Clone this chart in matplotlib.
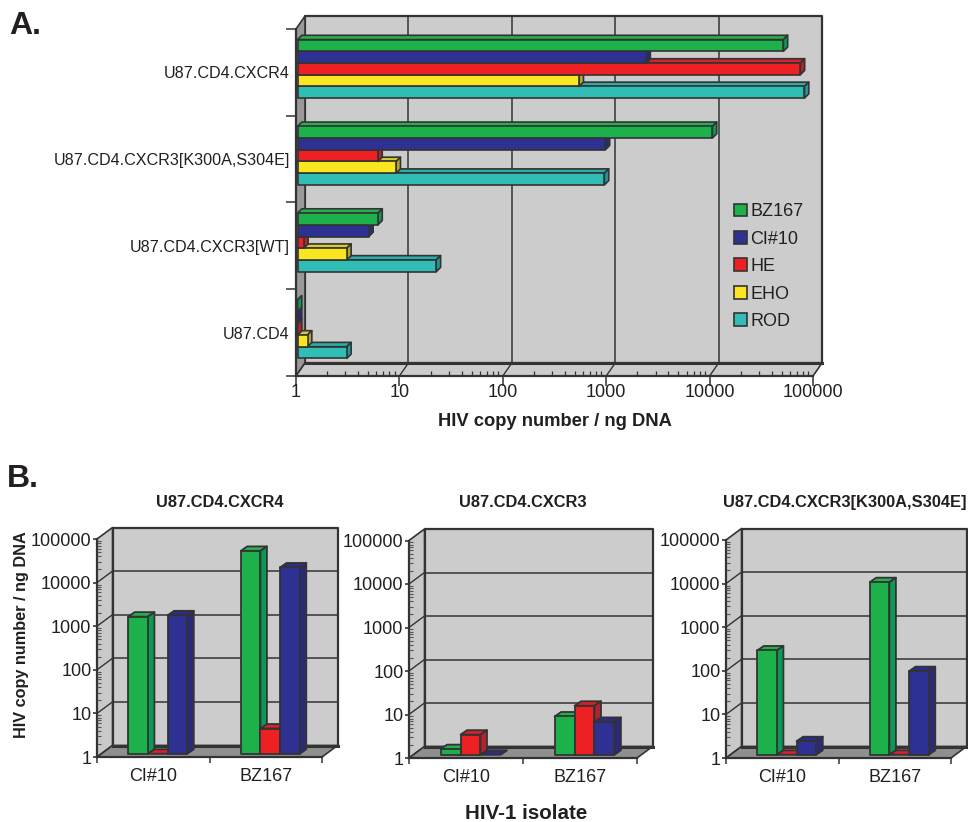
import matplotlib
matplotlib.use('Agg')
import matplotlib.pyplot as plt
import numpy as np
from matplotlib.patches import Polygon, Patch
from matplotlib.lines import Line2D
from matplotlib.ticker import LogLocator, NullFormatter
from matplotlib.transforms import IdentityTransform

plt.rcParams['font.family'] = ['Liberation Sans', 'DejaVu Sans']

W, H = 968, 822
INK = '#231f20'
LINE = '#333333'

# panel A
cells = ['U87.CD4.CXCR4', 'U87.CD4.CXCR3[K300A,S304E]', 'U87.CD4.CXCR3[WT]', 'U87.CD4']
isolates = ['BZ167', 'CI#10', 'HE', 'EHO', 'ROD']
bz167 = [50000, 10300, 6.0, 1.0]
ci10 = [2350, 950, 4.9, 1.0]
he = [73000, 6.0, 1.15, 1.0]
eho = [530, 9.0, 3.0, 1.25]
rod = [80000, 930, 22, 3.0]
decades = [1, 10, 100, 1000, 10000, 100000]
decade_labels = ['1', '10', '100', '1000', '10000', '100000']

# panel B
b_groups = ['CI#10', 'BZ167']
b_titles = ['U87.CD4.CXCR4', 'U87.CD4.CXCR3', 'U87.CD4.CXCR3[K300A,S304E]']
b_green = [[1400, 45000], [1.35, 7.6], [247, 9100]]
b_red = [[1.0, 3.8], [2.9, 13.4], [1.0, 1.0]]
b_navy = [[1500, 18800], [1.0, 5.7], [2.05, 83]]

front = {'BZ167': '#1db14b', 'CI#10': '#2e3192', 'HE': '#ed2024', 'EHO': '#f9e621', 'ROD': '#2fbdb5'}
side = {'BZ167': '#0b9a55', 'CI#10': '#2a2a7c', 'HE': '#b3242e', 'EHO': '#b3a73a', 'ROD': '#1f9c9c'}
top = {'BZ167': '#22b14c', 'CI#10': '#2b2d86', 'HE': '#d6202a', 'EHO': '#d8c92c', 'ROD': '#2aaeaa'}


def make_axes(fig, left, right, ytop, ybottom):
    return fig.add_axes([left / W, 1 - ybottom / H, (right - left) / W, (ybottom - ytop) / H])


def poly(ax, pts, color, edge=LINE, lw=1.0, z=3):
    ax.add_patch(Polygon(pts, closed=True, facecolor=color, edgecolor=edge, linewidth=lw,
                         transform=IdentityTransform(), clip_on=False, zorder=z, joinstyle='round'))


def seg(ax, a, b, lw=1.0, z=2, color=LINE):
    ax.add_line(Line2D([a[0], b[0]], [a[1], b[1]], color=color, linewidth=lw,
                       transform=IdentityTransform(), clip_on=False, zorder=z))


def box(ax, x0, x1, y0, y1, name, shift, depth, lw=1.0):
    # one 3D bar, corners come from the data through the axes scales
    a = ax.transData.transform((x0, y0)) + shift
    b = ax.transData.transform((x1, y1)) + shift
    l, r = min(a[0], b[0]), max(a[0], b[0])
    lo, hi = min(a[1], b[1]), max(a[1], b[1])
    dx, dy = depth
    poly(ax, [(l, hi), (r, hi), (r + dx, hi + dy), (l + dx, hi + dy)], top[name], lw=lw)
    poly(ax, [(r, lo), (r + dx, lo + dy), (r + dx, hi + dy), (r, hi)], side[name], lw=lw)
    if r - l > 0.5 and hi - lo > 0.5:
        poly(ax, [(l, lo), (r, lo), (r, hi), (l, hi)], front[name], lw=lw)


def room(ax, depth, wall_side, wall_floor, grid_x):
    # back wall, side wall and floor of the fake 3D box
    bl = ax.transAxes.transform((0, 0))
    br = ax.transAxes.transform((1, 0))
    tl = ax.transAxes.transform((0, 1))
    tr = ax.transAxes.transform((1, 1))
    d = np.array(depth)
    poly(ax, [bl + d, br + d, tr + d, tl + d], '#cccccc', lw=1.6, z=0.5)
    poly(ax, [bl, bl + d, tl + d, tl], wall_side, lw=1.2, z=0.6)
    poly(ax, [bl, br, br + d, bl + d], wall_floor, lw=1.2, z=0.6)
    seg(ax, bl + d, br + d, lw=2.2, z=0.8)
    for v in decades[1:-1]:
        p = ax.transData.transform((v, 1) if grid_x else (0, v))
        if grid_x:
            p = np.array([p[0], bl[1]])
            seg(ax, p, p + d, z=0.9)
            seg(ax, p + d, np.array([p[0], tl[1]]) + d, lw=1.1, z=0.9)
        else:
            p = np.array([bl[0], p[1]])
            seg(ax, p, p + d, z=0.9)
            seg(ax, p + d, np.array([br[0], p[1]]) + d, lw=1.1, z=0.9)


def style_log(axis):
    axis.set_minor_locator(LogLocator(base=10, subs=range(2, 10), numticks=12))
    axis.set_minor_formatter(NullFormatter())


fig = plt.figure(figsize=(W / 100, H / 100), dpi=100, facecolor='white')

# ---------- panel A ----------
ax = make_axes(fig, 296, 813, 29, 376)
ax.set_xscale('log')
ax.set_xlim(1, 100000)
ax.set_ylim(4, 0)
ax.patch.set_visible(False)
for s in ['top', 'right']:
    ax.spines[s].set_visible(False)
for s in ['left', 'bottom']:
    ax.spines[s].set_color(LINE)
    ax.spines[s].set_linewidth(1.6)
    ax.spines[s].set_zorder(1)

room(ax, (9, 13), '#999999', '#cccccc', True)

ax.set_xticks(decades, labels=decade_labels, fontsize=13, color=INK)
style_log(ax.xaxis)
ax.tick_params(axis='x', which='major', direction='out', length=7, width=1.1, color=LINE, pad=-1)
ax.tick_params(axis='x', which='minor', direction='in', length=3.5, width=0.9, color=LINE)
ax.set_yticks(range(5), labels=[''] * 5)
ax.set_yticks(np.arange(4) + 0.5, labels=cells, minor=True, fontsize=11.6, color=INK)
ax.tick_params(axis='y', which='major', direction='out', length=7, width=1.1, color=LINE)
ax.tick_params(axis='y', which='minor', length=0, pad=4.5)

rows = [bz167, ci10, he, eho, rod]
bar_h = 0.135
for g in range(len(cells) - 1, -1, -1):
    for k in range(len(rows) - 1, -1, -1):
        y0 = g + 0.5 + (k - 2.5) * bar_h
        box(ax, 1, rows[k][g], y0 + bar_h, y0, isolates[k], np.array([1.5, 3.5]), (4.3, 4.3), lw=1.2)

handles = [Patch(facecolor=front[n], edgecolor=LINE, linewidth=1.2, label=n) for n in isolates]
leg = ax.legend(handles=handles, loc='center left', bbox_to_anchor=(0.848, 0.315), frameon=False,
                fontsize=13, handlelength=0.72, handleheight=0.72, handletextpad=0.17,
                labelspacing=0.58, labelcolor=INK, borderpad=0, borderaxespad=0)
leg.set_zorder(6)

fig.text(555 / W, 1 - 421 / H, 'HIV copy number / ng DNA', fontsize=13.2, fontweight='bold',
         color=INK, ha='center', va='center')
fig.text(9 / W, 1 - 26 / H, 'A.', fontsize=23, fontweight='bold', color=INK, ha='left', va='center')
fig.text(7 / W, 1 - 479 / H, 'B.', fontsize=23, fontweight='bold', color=INK, ha='left', va='center')

# ---------- panel B ----------
frames = [(97, 322, 539, 757, 220), (409, 637, 540.5, 758, 523), (726, 951, 540, 758, 845)]
bar_w = 0.175
for i in range(3):
    left, right, ytop, ybottom, xtitle = frames[i]
    ax = make_axes(fig, left, right, ytop, ybottom)
    ax.set_yscale('log')
    ax.set_ylim(1, 100000)
    ax.set_xlim(-0.5, 1.5)
    ax.patch.set_visible(False)
    for s in ['top', 'right']:
        ax.spines[s].set_visible(False)
    for s in ['left', 'bottom']:
        ax.spines[s].set_color(LINE)
        ax.spines[s].set_linewidth(1.6)
        ax.spines[s].set_zorder(1)
    room(ax, (15.5, 11.5), '#c9c9c9', '#8e9090', False)

    ax.set_yticks(decades, labels=decade_labels, fontsize=13, color=INK)
    style_log(ax.yaxis)
    ax.tick_params(axis='y', which='major', direction='out', length=3, width=1.2, color=LINE, pad=1)
    ax.tick_params(axis='y', which='minor', direction='in', length=3, width=0.8, color='#555555')
    ax.set_xticks([-0.5, 0.5, 1.5], labels=['', '', ''])
    ax.set_xticks([0, 1], labels=b_groups, minor=True, fontsize=13, color=INK)
    ax.tick_params(axis='x', which='major', direction='out', length=4, width=1.1, color=LINE)
    ax.tick_params(axis='x', which='minor', length=0, pad=8)

    series = [('BZ167', b_green[i]), ('HE', b_red[i]), ('CI#10', b_navy[i])]
    for g in range(2):
        for k in range(3):
            name, vals = series[k]
            x0 = g + (k - 1.5) * bar_w
            box(ax, x0, x0 + bar_w, 1, vals[g], name, np.array([4.5, 3.2]), (6.5, 4.5), lw=1.3)

    fig.text(xtitle / W, 1 - 502 / H, b_titles[i], fontsize=11.75, fontweight='bold', color=INK,
             ha='center', va='center')

fig.text(22 / W, 1 - 635 / H, 'HIV copy number / ng DNA', fontsize=11.7, fontweight='bold', color=INK,
         rotation=90, ha='center', va='center')
fig.text(526 / W, 1 - 813 / H, 'HIV-1 isolate', fontsize=14.8, fontweight='bold', color=INK,
         ha='center', va='center')

fig.savefig('out.png', dpi=100, facecolor='white')
